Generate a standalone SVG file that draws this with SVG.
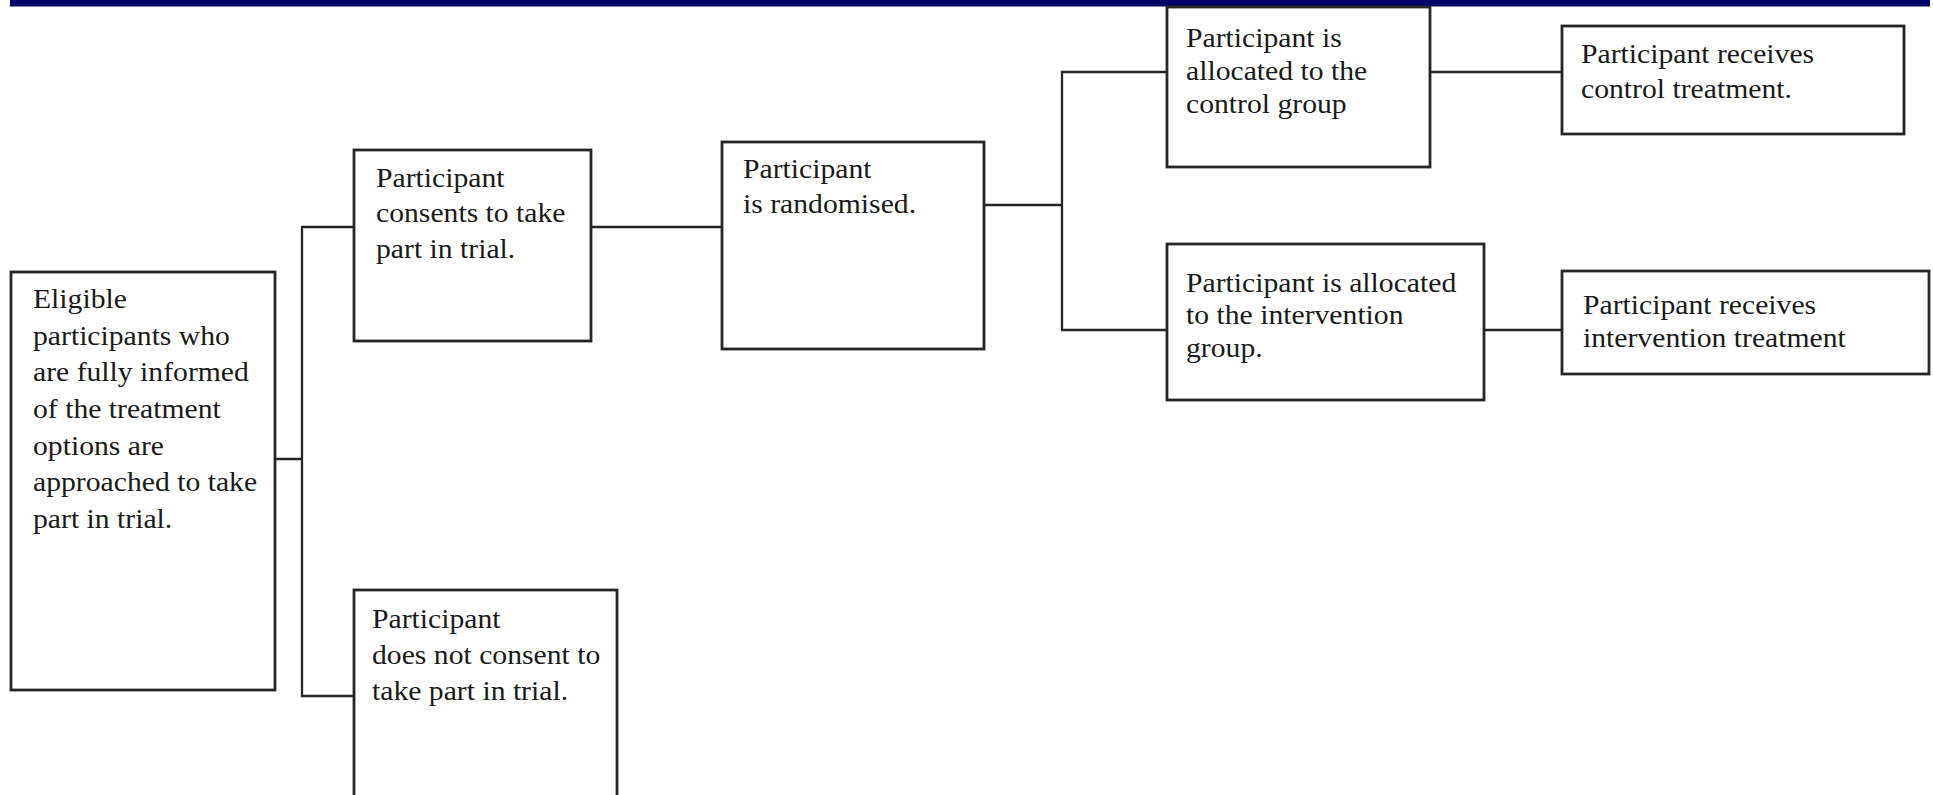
<svg xmlns="http://www.w3.org/2000/svg" width="1933" height="795" viewBox="0 0 1933 795">
  <style>
    .box { fill: #ffffff; stroke: #262626; stroke-width: 2.8; }
    .link { fill: none; stroke: #262626; stroke-width: 2.3; }
    .t { font-family: "Liberation Serif", "Times New Roman", serif; font-size: 28px; fill: #1a1a1a; }
  </style>

  <rect x="0" y="0" width="1933" height="795" fill="#ffffff"/>
  <!-- header rule -->
  <rect x="10" y="0" width="1920" height="6.5" fill="#000066"/>

  <g id="connectors">
    <!-- eligible -> consent / no consent -->
    <path class="link" d="M275 459 H302 M354 227 H302 V696 H354"/>
    <!-- consent -> randomised -->
    <path class="link" d="M591 227 H722"/>
    <!-- randomised -> control / intervention -->
    <path class="link" d="M984 205 H1062 M1167 72 H1062 V330 H1167"/>
    <!-- allocation -> treatment -->
    <path class="link" d="M1430 72 H1562"/>
    <path class="link" d="M1484 330 H1562"/>
  </g>

  <g id="eligible">
    <rect class="box" x="11" y="272" width="264" height="418"/>
    <text class="t" transform="translate(33 308) scale(1.06 1)">
      <tspan x="0" dy="0">Eligible</tspan>
      <tspan x="0" dy="36.7">participants who</tspan>
      <tspan x="0" dy="36.7">are fully informed</tspan>
      <tspan x="0" dy="36.7">of the treatment</tspan>
      <tspan x="0" dy="36.7">options are</tspan>
      <tspan x="0" dy="36.7">approached to take</tspan>
      <tspan x="0" dy="36.7">part in trial.</tspan>
    </text>
  </g>

  <g id="consents">
    <rect class="box" x="354" y="150" width="237" height="191"/>
    <text class="t" transform="translate(376 187) scale(1.06 1)">
      <tspan x="0" dy="0">Participant</tspan>
      <tspan x="0" dy="35.5">consents to take</tspan>
      <tspan x="0" dy="35.5">part in trial.</tspan>
    </text>
  </g>

  <g id="no-consent">
    <rect class="box" x="354" y="590" width="263" height="220"/>
    <text class="t" transform="translate(372 628) scale(1.06 1)">
      <tspan x="0" dy="0">Participant</tspan>
      <tspan x="0" dy="36">does not consent to</tspan>
      <tspan x="0" dy="36">take part in trial.</tspan>
    </text>
  </g>

  <g id="randomised">
    <rect class="box" x="722" y="142" width="262" height="207"/>
    <text class="t" transform="translate(743 178) scale(1.06 1)">
      <tspan x="0" dy="0">Participant</tspan>
      <tspan x="0" dy="35">is randomised.</tspan>
    </text>
  </g>

  <g id="control-group">
    <rect class="box" x="1167" y="7" width="263" height="160"/>
    <text class="t" transform="translate(1186 47) scale(1.06 1)">
      <tspan x="0" dy="0">Participant is</tspan>
      <tspan x="0" dy="33">allocated to the</tspan>
      <tspan x="0" dy="33">control group</tspan>
    </text>
  </g>

  <g id="intervention-group">
    <rect class="box" x="1167" y="244" width="317" height="156"/>
    <text class="t" transform="translate(1186 292) scale(1.06 1)">
      <tspan x="0" dy="0">Participant is allocated</tspan>
      <tspan x="0" dy="32.5">to the intervention</tspan>
      <tspan x="0" dy="32.5">group.</tspan>
    </text>
  </g>

  <g id="control-treatment">
    <rect class="box" x="1562" y="26" width="342" height="108"/>
    <text class="t" transform="translate(1581 63) scale(1.06 1)">
      <tspan x="0" dy="0">Participant receives</tspan>
      <tspan x="0" dy="35">control treatment.</tspan>
    </text>
  </g>

  <g id="intervention-treatment">
    <rect class="box" x="1562" y="271" width="367" height="103"/>
    <text class="t" transform="translate(1583 314) scale(1.06 1)">
      <tspan x="0" dy="0">Participant receives</tspan>
      <tspan x="0" dy="33">intervention treatment</tspan>
    </text>
  </g>
</svg>
